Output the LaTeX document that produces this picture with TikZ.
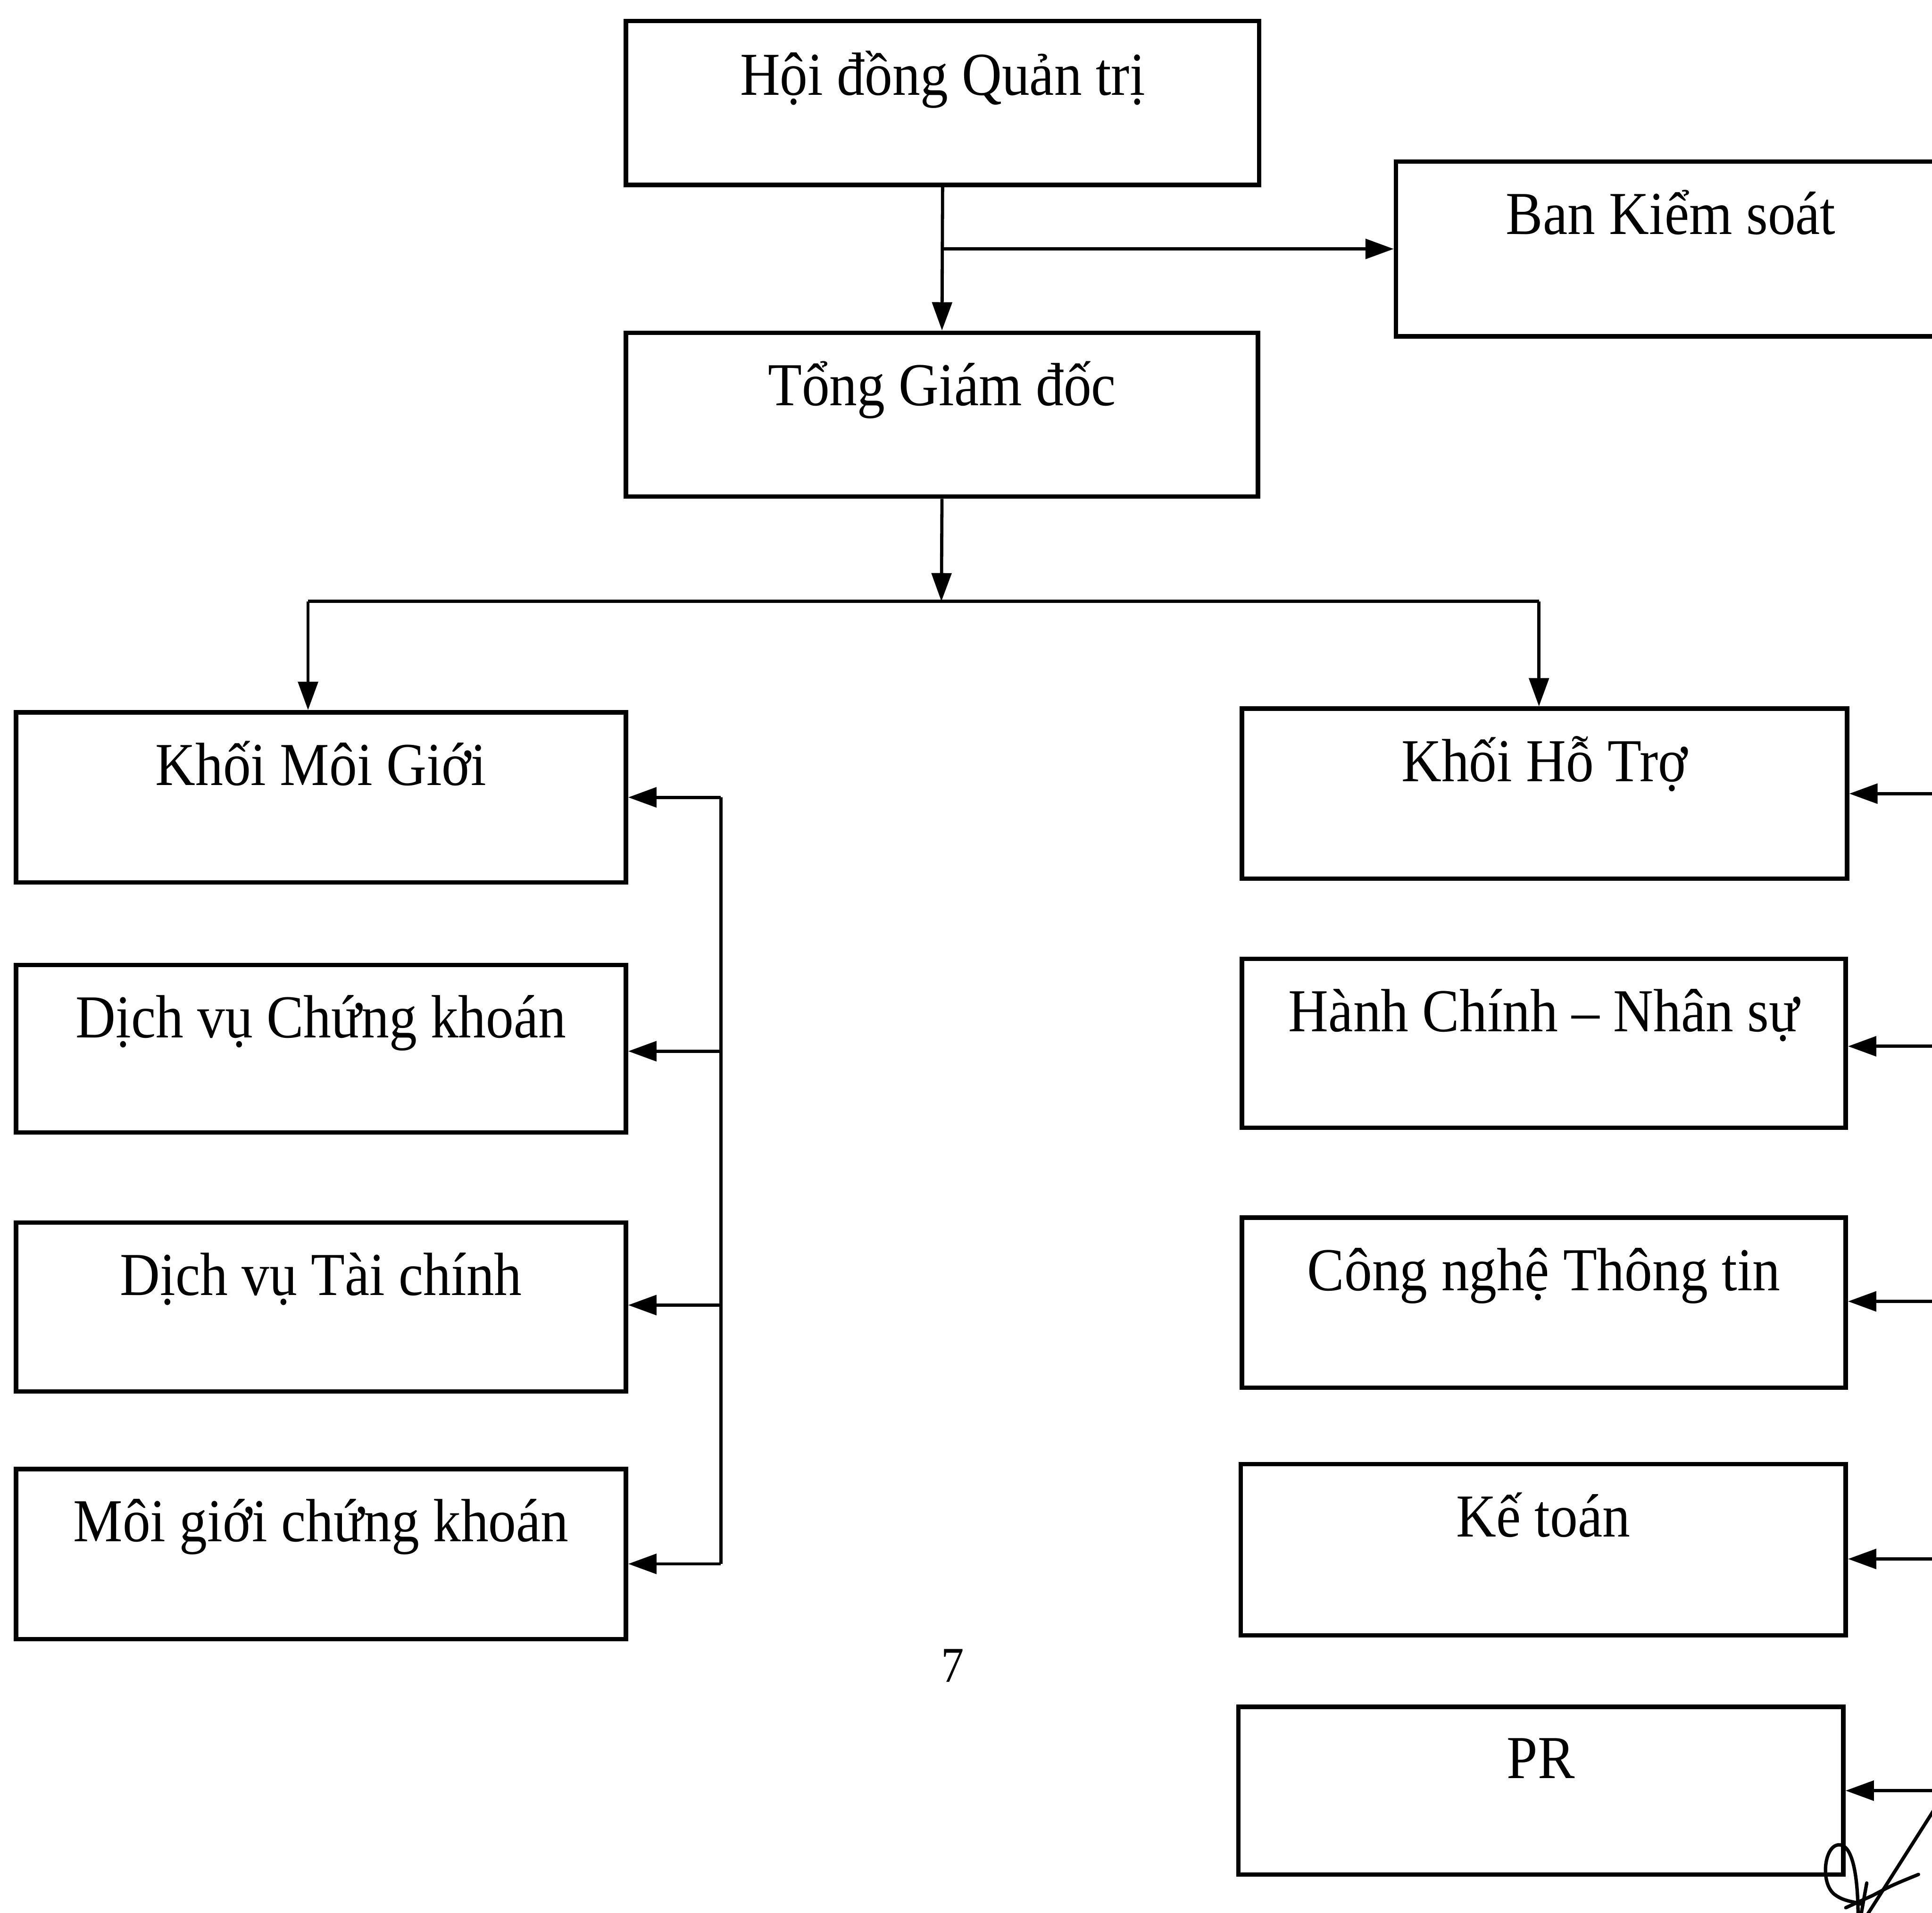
\documentclass[tikz,border=0pt]{standalone}
\usepackage{fontspec}
\setmainfont{Liberation Serif}
\usetikzlibrary{arrows.meta,calc}
\newcommand\vs[1]{\scalebox{1}[1.1]{#1}}
\begin{document}
\begin{tikzpicture}[x=0.5pt,y=-0.5pt,
  box/.style={draw,line width=1.8pt,inner sep=0pt,rectangle},
  lbl/.style={anchor=base,inner sep=0pt,font=\fontsize{22.5}{27}\selectfont},
  arr/.style={line width=1.3pt,-{Triangle[length=11.5pt,width=8pt]}},
  ln/.style={line width=1.3pt},
  sig/.style={line width=1.4pt,line cap=round,line join=round}]
\clip (0,0) rectangle (1568,1552);
\fill[white] (0,0) rectangle (1568,1552);

% boxes
\node[box,minimum width=257pt,minimum height=66.5pt] (hdqt) at (765,83.5) {};
\node[box,minimum width=223pt,minimum height=71pt] (bks) at (1356,202) {};
\node[box,minimum width=256.5pt,minimum height=66.5pt] (tgd) at (764.5,336.5) {};
\node[box,minimum width=247.5pt,minimum height=69pt] (kmg) at (260.5,647) {};
\node[box,minimum width=247.5pt,minimum height=68pt] (dvck) at (260.5,851) {};
\node[box,minimum width=247.5pt,minimum height=68.5pt] (dvtc) at (260.5,1060.5) {};
\node[box,minimum width=247.5pt,minimum height=69pt] (mgck) at (260.5,1261) {};
\node[box,minimum width=245.5pt,minimum height=69pt] (kht) at (1253.5,644) {};
\node[box,minimum width=245pt,minimum height=68.5pt] (hcns) at (1253,846.5) {};
\node[box,minimum width=245pt,minimum height=69pt] (cntt) at (1253,1057) {};
\node[box,minimum width=245.5pt,minimum height=69.5pt] (kt) at (1252.5,1257.5) {};
\node[box,minimum width=245.5pt,minimum height=68pt] (pr) at (1250.5,1453) {};

% labels
\node[lbl] (thdqt) at (765,77) {\vs{Hội đồng Quản trị}};
\node[lbl] (tbks) at (1356,190) {\vs{Ban Kiểm soát}};
\node[lbl] (ttgd) at (764.5,329) {\vs{Tổng Giám đốc}};
\node[lbl] (tkmg) at (260.5,637) {\vs{Khối Môi Giới}};
\node[lbl] (tdvck) at (260.5,842) {\vs{Dịch vụ Chứng khoán}};
\node[lbl] (tdvtc) at (260.5,1051) {\vs{Dịch vụ Tài chính}};
\node[lbl] (tmgck) at (260.5,1251) {\vs{Môi giới chứng khoán}};
\node[lbl] (tkht) at (1253.5,634) {\vs{Khối Hỗ Trợ}};
\node[lbl] (thcns) at (1253,837) {\vs{Hành Chính – Nhân sự}};
\node[lbl] (tcntt) at (1253,1047) {\vs{Công nghệ Thông tin}};
\node[lbl] (tkt) at (1252.5,1247) {\vs{Kế toán}};
\node[lbl] (tpr) at (1250.5,1443) {\vs{PR}};

% page number
\node[anchor=base,inner sep=0pt,font=\fontsize{18.5}{22}\selectfont] (pg) at (773,1365) {\vs{7}};

% top connectors
\coordinate (j1) at (764,202);
\draw[arr] (hdqt.south) -- (tgd.north);
\draw[arr] (j1) -- (bks.west);
\coordinate (j2) at (764,488);
\draw[arr] (tgd.south) -- (j2);
\coordinate (bl) at (250,488);
\coordinate (br) at (1249,488);
\draw[ln] (bl) -- (br);
\draw[arr] (bl) -- (bl |- kmg.north);
\draw[arr] (br) -- (br |- kht.north);

% left bus
\coordinate (l1) at (585,647);
\coordinate (l2) at (585,853);
\coordinate (l3) at (585,1059);
\coordinate (l4) at (585,1269);
\draw[ln] (l1) -- (l4);
\draw[arr] (l1) -- (kmg.east |- l1);
\draw[arr] (l2) -- (dvck.east |- l2);
\draw[arr] (l3) -- (dvtc.east |- l3);
\draw[arr] (l4) -- (mgck.east |- l4);

% right side (bus off page)
\coordinate (r1) at (1600,644);
\coordinate (r2) at (1600,849);
\coordinate (r3) at (1600,1056);
\coordinate (r4) at (1600,1265);
\coordinate (r5) at (1600,1453);
\draw[arr] (r1) -- (kht.east |- r1);
\draw[arr] (r2) -- (hcns.east |- r2);
\draw[arr] (r3) -- (cntt.east |- r3);
\draw[arr] (r4) -- (kt.east |- r4);
\draw[arr] (r5) -- (pr.east |- r5);

% signature
\draw[sig] (1508,1556) .. controls (1508,1520) and (1503,1496) .. (1492,1497)
  .. controls (1480,1498) and (1477,1530) .. (1490,1538)
  .. controls (1497,1543) and (1505,1543) .. (1510,1545);
\draw[sig] (1498,1548) -- (1520,1538) .. controls (1535,1530) .. (1557,1521);
\draw[sig] (1514,1556) -- (1570,1468);
\draw[sig] (1515,1528) -- (1510,1556);
\end{tikzpicture}
\end{document}
